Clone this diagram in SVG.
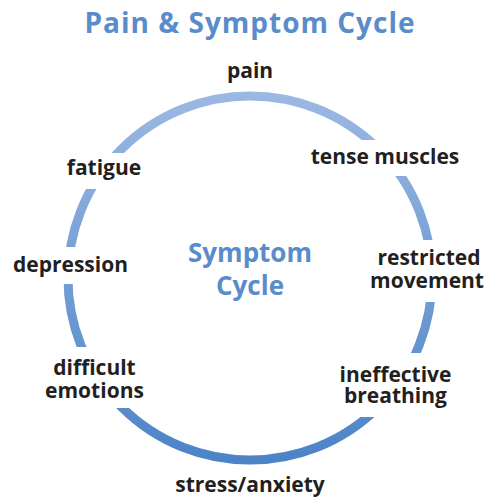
<svg xmlns="http://www.w3.org/2000/svg" width="489" height="500" viewBox="0 0 489 500">
<defs>
<linearGradient id="ringGrad" x1="0" y1="0" x2="0" y2="1">
<stop offset="0" stop-color="#9bb8e2"/>
<stop offset="1" stop-color="#4d84c7"/>
</linearGradient>
<style>
.lbl{font-family:"Open Sans","Liberation Sans",sans-serif;font-weight:bold;font-size:21px;fill:#231f20;text-anchor:middle}
.blue{font-family:"Open Sans","Liberation Sans",sans-serif;font-weight:bold;fill:#5a8ccb;text-anchor:middle}
.mask{fill:#ffffff}
</style>
</defs>
<rect width="489" height="500" fill="#ffffff"/>
<text class="blue" x="250" y="33" font-size="28" letter-spacing="1">Pain &amp; Symptom Cycle</text>
<g id="connectors">
<circle cx="250" cy="278" r="182" fill="none" stroke="url(#ringGrad)" stroke-width="9"/>
</g>
<g id="center">
<text class="blue" x="250" y="262" font-size="26">Symptom</text>
<text class="blue" x="250" y="295" font-size="26">Cycle</text>
</g>
<g id="pain"><text class="lbl" x="250" y="78">pain</text></g>
<g id="tense"><rect class="mask" x="300" y="140" width="165" height="36"/><text class="lbl" x="385" y="164">tense muscles</text></g>
<g id="restricted"><rect class="mask" x="362" y="240" width="127" height="62"/><text class="lbl" x="429" y="265">restricted</text><text class="lbl" x="427" y="288">movement</text></g>
<g id="ineffective"><rect class="mask" x="333" y="353" width="125" height="64"/><text class="lbl" x="395.5" y="382">ineffective</text><text class="lbl" x="395.5" y="403">breathing</text></g>
<g id="stress"><text class="lbl" x="250" y="492">stress/anxiety</text></g>
<g id="difficult"><rect class="mask" x="40" y="347" width="112" height="61"/><text class="lbl" x="94.5" y="375">difficult</text><text class="lbl" x="94.5" y="398">emotions</text></g>
<g id="depression"><rect class="mask" x="5" y="247" width="132" height="37"/><text class="lbl" x="70.5" y="272">depression</text></g>
<g id="fatigue"><rect class="mask" x="55" y="153" width="97" height="36"/><text class="lbl" x="104" y="175">fatigue</text></g>
</svg>
